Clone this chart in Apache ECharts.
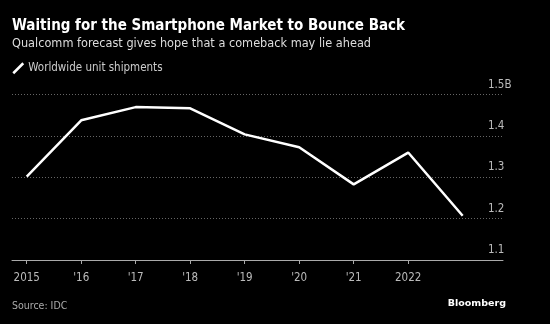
<!DOCTYPE html>
<html>
<head>
<meta charset="utf-8">
<script src="https://cdn.jsdelivr.net/npm/echarts@6/dist/echarts.min.js"></script>
<style>
  html, body { margin: 0; padding: 0; background: #000; }
  #chart { width: 550px; height: 324px; }
</style>
</head>
<body>
<div id="chart"></div>
<script>
// Worldwide smartphone unit shipments, billions of units
const years = [2015, 2016, 2017, 2018, 2019, 2020, 2021, 2022, 2023];
const shipments = [1.302, 1.438, 1.470, 1.467, 1.404, 1.373, 1.283, 1.360, 1.207];
const yearTicks = [2015, 2016, 2017, 2018, 2019, 2020, 2021, 2022];
const yearLabels = ['2015', "'16", "'17", "'18", "'19", "'20", "'21", '2022'];
const valueTicks = [1.1, 1.2, 1.3, 1.4, 1.5];

const chart = echarts.init(document.getElementById('chart'), null, { renderer: 'canvas' });
const font = '"DejaVu Sans Condensed", "DejaVu Sans", sans-serif';

chart.setOption({
  backgroundColor: '#000',
  animation: false,
  title: [
    {
      text: 'Waiting for the Smartphone Market to Bounce Back',
      left: 12, top: 19, padding: 0,
      textStyle: { color: '#fff', fontFamily: font, fontWeight: 'bold', fontSize: 15 }
    },
    {
      text: 'Qualcomm forecast gives hope that a comeback may lie ahead',
      left: 12, top: 37, padding: 0,
      textStyle: { color: '#ddd', fontFamily: font, fontWeight: 'normal', fontSize: 12.6 }
    },
    {
      text: 'Source: IDC',
      left: 12, top: 301, padding: 0,
      textStyle: { color: '#aaa', fontFamily: font, fontWeight: 'normal', fontSize: 10.5 }
    },
    {
      text: 'Bloomberg',
      right: 44, top: 299, padding: 0,
      textStyle: { color: '#fff', fontFamily: '"DejaVu Sans", sans-serif', fontWeight: 'bold', fontSize: 9.5 }
    }
  ],
  legend: {
    left: 12, top: 62, padding: 0,
    itemWidth: 10, itemHeight: 10, itemGap: 5,
    icon: 'path://M0,10 L10,0',
    textStyle: { color: '#ccc', fontFamily: font, fontSize: 11.5, padding: [0, 0, 0, 0] },
    data: [{ name: 'Worldwide unit shipments', itemStyle: { color: 'transparent', borderColor: '#fff', borderWidth: 2.5 } }]
  },
  grid: { left: 12, right: 47, top: 94.7, bottom: 64, containLabel: false },
  xAxis: {
    type: 'value',
    min: 2014.73, max: 2023.74,
    splitLine: { show: false },
    axisLine: { show: true, lineStyle: { color: '#aaa', width: 1 } },
    axisTick: { show: true, length: 4, lineStyle: { color: '#aaa' }, customValues: yearTicks },
    axisLabel: {
      color: '#bbb', fontFamily: font, fontSize: 11.5, margin: 12,
      customValues: yearTicks,
      formatter: v => yearLabels[yearTicks.indexOf(Math.round(v))] || ''
    }
  },
  yAxis: {
    type: 'value',
    position: 'right',
    min: 1.1, max: 1.5, interval: 0.1,
    axisLine: { show: false },
    axisTick: { show: false },
    splitLine: { show: true, lineStyle: { color: '#666', type: [1, 2], width: 1 } },
    axisLabel: {
      inside: true, margin: 15,
      color: '#bbb', fontFamily: font, fontSize: 11.5,
      verticalAlign: 'bottom', align: 'left', padding: [0, 0, 4, 0],
      formatter: v => {
        const t = valueTicks.find(x => Math.abs(x - v) < 1e-6);
        if (t === undefined) return '';
        return t === 1.5 ? t.toFixed(1) + 'B' : t.toFixed(1);
      }
    }
  },
  series: [{
    name: 'Worldwide unit shipments',
    type: 'line',
    data: years.map((y, i) => [y, shipments[i]]),
    symbol: 'none',
    lineStyle: { color: '#fff', width: 2.5 },
    itemStyle: { color: '#fff' }
  }]
});
</script>
</body>
</html>
